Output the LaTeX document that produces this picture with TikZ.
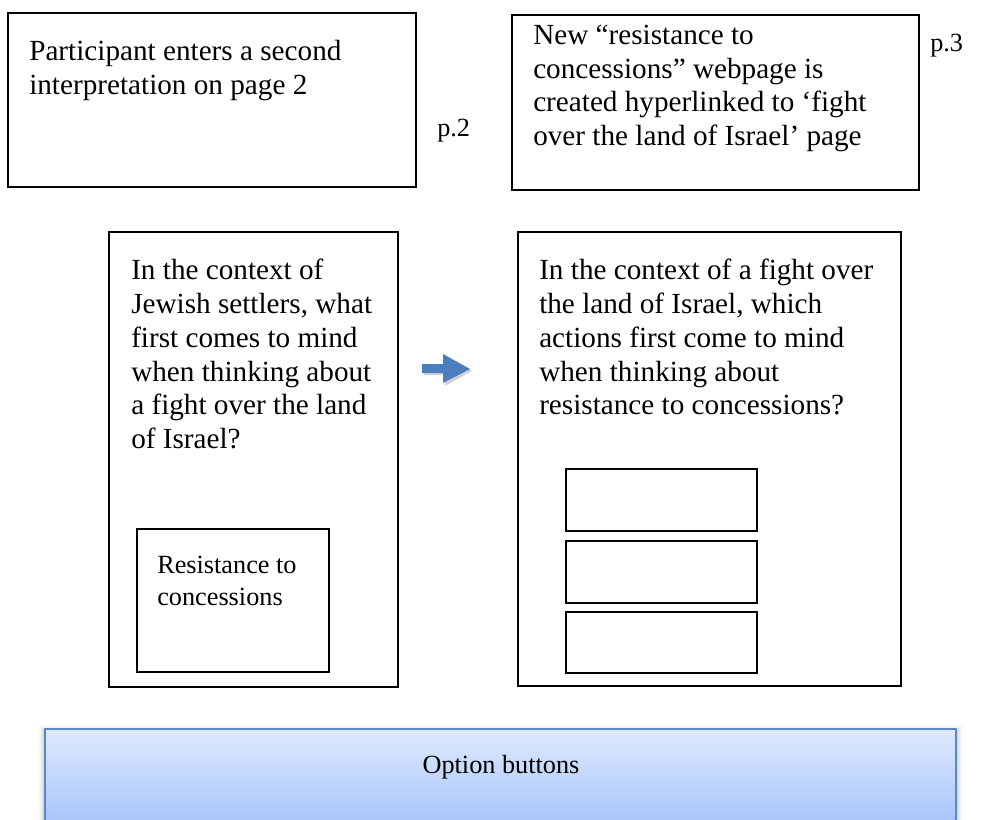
\documentclass[tikz,border=0pt]{standalone}
\usepackage{fontspec}
\setmainfont{Liberation Serif}
\usetikzlibrary{calc}
\definecolor{arrowblue}{HTML}{4A7EBF}
\definecolor{barline}{HTML}{5A88C8}
\definecolor{bartop}{HTML}{DFE9FD}
\definecolor{barbottom}{HTML}{A9C6FA}
\tikzset{
  frame/.style={draw=black, line width=1.4pt, inner sep=0pt, outer sep=0pt, anchor=north west},
  bigtext/.style={anchor=base west, inner sep=0pt, font=\fontsize{21.9pt}{25pt}\selectfont},
  smalltext/.style={anchor=base west, inner sep=0pt, font=\fontsize{19.7pt}{24pt}\selectfont},
}
\begin{document}
\begin{tikzpicture}[x=0.75pt, y=-0.75pt]
\useasboundingbox (0,0) rectangle (999,820);

% top boxes
\node[frame, minimum width=306pt, minimum height=130.5pt] (b1) at (8,13) {};
\node[bigtext] (t1a) at (29,61) {Participant enters a second};
\node[bigtext] (t1b) at (29,95) {interpretation on page 2};
\node[smalltext] (p2) at (437,137) {p.2};

\node[frame, minimum width=305.25pt, minimum height=131.25pt] (b2) at (512,15) {};
\node[bigtext] (t2a) at (533,45) {New “resistance to};
\node[bigtext] (t2b) at (533,79) {concessions” webpage is};
\node[bigtext] (t2c) at (533,112) {created hyperlinked to ‘fight};
\node[bigtext] (t2d) at (533,146) {over the land of Israel’ page};
\node[smalltext] (p3) at (930,52) {p.3};

% page 2 screen
\node[frame, minimum width=216.75pt, minimum height=341.25pt] (b3) at (109,232) {};
\node[bigtext] (t3a) at (131,279) {In the context of};
\node[bigtext] (t3b) at (131,313) {Jewish settlers, what};
\node[bigtext] (t3c) at (131,347) {first comes to mind};
\node[bigtext] (t3d) at (131,381) {when thinking about};
\node[bigtext] (t3e) at (131,414) {a fight over the land};
\node[bigtext] (t3f) at (131,448) {of Israel?};
\node[frame, minimum width=144pt, minimum height=107.25pt] (b3in) at (137,529) {};
\node[smalltext] (r1) at (157,573) {Resistance to};
\node[smalltext] (r2) at (157,605) {concessions};

% page 3 screen
\node[frame, minimum width=287.25pt, minimum height=340.5pt] (b4) at (518,232) {};
\node[bigtext] (t4a) at (539,279) {In the context of a fight over};
\node[bigtext] (t4b) at (539,313) {the land of Israel, which};
\node[bigtext] (t4c) at (539,347) {actions first come to mind};
\node[bigtext] (t4d) at (539,381) {when thinking about};
\node[bigtext] (t4e) at (539,414) {resistance to concessions?};
\node[frame, minimum width=143.25pt, minimum height=46.5pt] (s1) at (566,469) {};
\node[frame, minimum width=143.25pt, minimum height=46.5pt] (s2) at (566,541) {};
\node[frame, minimum width=143.25pt, minimum height=45.75pt] (s3) at (566,612) {};

% block arrow between the two screens
\coordinate (ar) at (422,369);
\begin{scope}[shift={(ar)}]
  \fill[black, opacity=0.18] (2,-3) -- (23,-3) -- (23,-13) -- (50,2) -- (23,17) -- (23,6) -- (2,6) -- cycle;
  \fill[arrowblue] (0,-5) -- (21,-5) -- (21,-15) -- (48,0) -- (21,14) -- (21,4) -- (0,4) -- cycle;
\end{scope}

% option bar
\coordinate (barnw) at (45,729);
\coordinate (barse) at (956,820);
\foreach \d/\o in {6/0.04,4/0.06,2/0.08}{
  \fill[black, opacity=\o] ($(barnw)+(-\d,-\d+3)$) rectangle ($(barse)+(\d,0)$);
}
\shade[top color=bartop, bottom color=barbottom] (barnw) rectangle (barse);
\draw[barline, line width=1.3pt] (barnw |- barse) -- (barnw) -- (barse |- barnw) -- (barse);
\node[smalltext, anchor=base] (opt) at (501,773) {Option buttons};
\end{tikzpicture}
\end{document}
